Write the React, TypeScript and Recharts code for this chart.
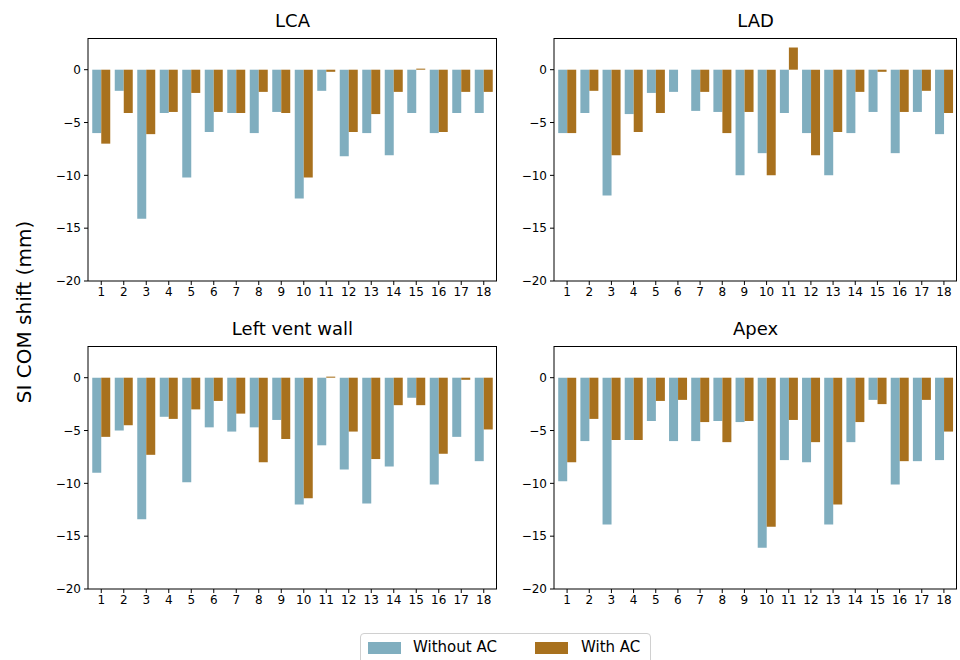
import { BarChart, Bar, XAxis, YAxis } from 'recharts';

const positions = ['1', '2', '3', '4', '5', '6', '7', '8', '9', '10', '11', '12', '13', '14', '15', '16', '17', '18'];
const yTicks = [0, -5, -10, -15, -20];

const lcaWithout = [-6.0, -2.0, -14.1, -4.1, -10.2, -5.9, -4.1, -6.0, -4.0, -12.2, -2.0, -8.2, -6.0, -8.1, -4.1, -6.0, -4.1, -4.1];
const lcaWith = [-7.0, -4.1, -6.1, -4.0, -2.2, -4.0, -4.1, -2.1, -4.1, -10.2, -0.2, -5.9, -4.2, -2.1, 0.1, -5.9, -2.1, -2.1];

const ladWithout = [-6.0, -4.1, -11.9, -4.2, -2.2, -2.1, -3.9, -4.0, -10.0, -7.9, -4.1, -6.0, -10.0, -6.0, -4.0, -7.9, -4.0, -6.1];
const ladWith = [-6.0, -2.0, -8.1, -5.9, -4.1, 0, -2.1, -6.0, -4.0, -10.0, 2.1, -8.1, -5.9, -2.1, -0.2, -4.0, -2.0, -4.1];

const lvwWithout = [-9.0, -5.0, -13.4, -3.7, -9.9, -4.7, -5.1, -4.7, -4.0, -12.0, -6.4, -8.7, -11.9, -8.4, -1.9, -10.1, -5.6, -7.9];
const lvwWith = [-5.6, -4.5, -7.3, -3.9, -3.0, -2.2, -3.4, -8.0, -5.8, -11.4, 0.1, -5.1, -7.7, -2.6, -2.6, -7.2, -0.2, -4.9];

const apexWithout = [-9.8, -6.0, -13.9, -5.9, -4.1, -6.0, -6.0, -4.1, -4.2, -16.1, -7.8, -8.0, -13.9, -6.1, -2.1, -10.1, -7.9, -7.8];
const apexWith = [-8.0, -3.9, -5.9, -5.9, -2.2, -2.1, -4.2, -6.1, -4.1, -14.1, -4.0, -6.1, -12.0, -4.2, -2.5, -7.9, -2.1, -5.1];

const BLUE = '#80aebf';
const ORANGE = '#a8711e';
const FONT = '"DejaVu Sans", sans-serif';

const fmt = (v: number) => String(v).replace('-', '\u2212');

interface PanelProps {
  title: string;
  without: number[];
  withAc: number[];
  left: number;
  top: number;
  yAxisWidth: number;
}

function Panel({ title, without, withAc, left, top, yAxisWidth }: PanelProps) {
  const data = positions.map((p, i) => ({ pos: p, without: without[i], withAc: withAc[i] }));
  const width = 500;
  const plotLeft = yAxisWidth;
  const plotWidth = width - yAxisWidth - 3;

  return (
    <div style={{ position: 'absolute', left, top, width, height: 300 }}>
      <div
        style={{
          position: 'absolute',
          left: plotLeft,
          width: plotWidth,
          top: 10,
          textAlign: 'center',
          fontSize: 18,
          fontFamily: FONT,
          color: '#000',
        }}
      >
        {title}
      </div>
      <BarChart
        width={width}
        height={300}
        data={data}
        margin={{ top: 38, right: 3, left: 0, bottom: 0 }}
        barGap={0}
        barCategoryGap="10%"
      >
        <XAxis
          dataKey="pos"
          height={19}
          padding={{ left: 2, right: 2 }}
          tick={{ fontSize: 12, fill: '#000', fontFamily: FONT }}
          tickSize={4}
          tickMargin={2}
          tickLine={{ stroke: '#000' }}
          axisLine={{ stroke: '#000' }}
          interval={0}
        />
        <YAxis
          width={yAxisWidth}
          domain={[-20, 3]}
          ticks={yTicks}
          allowDataOverflow
          tickFormatter={fmt}
          tick={{ fontSize: 12, fill: '#000', fontFamily: FONT }}
          tickSize={4}
          tickMargin={3}
          tickLine={{ stroke: '#000' }}
          axisLine={{ stroke: '#000' }}
        />
        <Bar dataKey="without" fill={BLUE} isAnimationActive={false} />
        <Bar dataKey="withAc" fill={ORANGE} isAnimationActive={false} />
      </BarChart>
      {/* top and right spines */}
      <div
        style={{
          position: 'absolute',
          left: plotLeft,
          top: 38,
          width: plotWidth,
          height: 243,
          borderTop: '1px solid #000',
          borderRight: '1px solid #000',
          boxSizing: 'border-box',
          pointerEvents: 'none',
        }}
      />
    </div>
  );
}

export default function App() {
  return (
    <div style={{ position: 'absolute', left: 0, top: 0, width: 960, height: 660, background: '#fff', fontFamily: FONT, overflow: 'hidden' }}>
      <Panel title="LCA" without={lcaWithout} withAc={lcaWith} left={0} top={0} yAxisWidth={88} />
      <Panel title="LAD" without={ladWithout} withAc={ladWith} left={460} top={0} yAxisWidth={94} />
      <Panel title="Left vent wall" without={lvwWithout} withAc={lvwWith} left={0} top={308} yAxisWidth={88} />
      <Panel title="Apex" without={apexWithout} withAc={apexWith} left={460} top={308} yAxisWidth={94} />
      <div
        style={{
          position: 'absolute',
          left: 24,
          top: 312,
          transform: 'translate(-50%, -50%) rotate(-90deg)',
          fontSize: 20,
          whiteSpace: 'nowrap',
          color: '#000',
        }}
      >
        SI COM shift (mm)
      </div>
      <div
        style={{
          position: 'absolute',
          left: 360,
          top: 633,
          width: 291,
          height: 34,
          border: '1px solid #d0d0d0',
          borderRadius: 4,
          boxSizing: 'border-box',
          fontSize: 15,
          color: '#000',
        }}
      >
        <div style={{ position: 'absolute', left: 7, top: 8, width: 33, height: 12, background: BLUE }} />
        <div style={{ position: 'absolute', left: 52, top: 4, lineHeight: '18px' }}>Without AC</div>
        <div style={{ position: 'absolute', left: 174, top: 8, width: 33, height: 12, background: ORANGE }} />
        <div style={{ position: 'absolute', left: 220, top: 4, lineHeight: '18px' }}>With AC</div>
      </div>
    </div>
  );
}
